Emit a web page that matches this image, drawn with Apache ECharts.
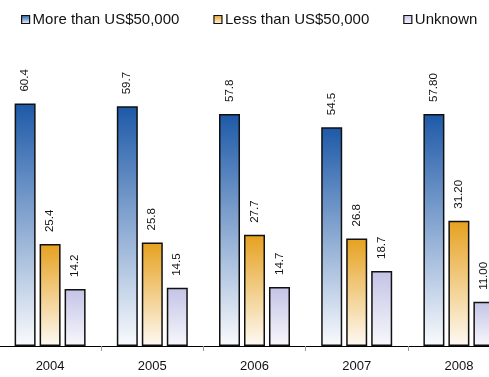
<!DOCTYPE html>
<html>
<head>
<meta charset="utf-8">
<script src="https://cdn.jsdelivr.net/npm/echarts@6/dist/echarts.min.js"></script>
<style>
  html, body { margin: 0; padding: 0; background: #fff; }
  #chart { width: 489px; height: 377px; }
</style>
</head>
<body>
<div id="chart"></div>
<script>
// Income groups per year
const years = ['2004', '2005', '2006', '2007', '2008'];
const moreThan50k = [60.4, 59.7, 57.8, 54.5, 57.8];
const lessThan50k = [25.4, 25.8, 27.7, 26.8, 31.2];
const unknown = [14.2, 14.5, 14.7, 18.7, 11.0];
// decimals shown in each year's value labels
const labelDecimals = [1, 1, 1, 1, 2];
const seriesNames = ['More than US$50,000', 'Less than US$50,000', 'Unknown'];

const FONT = 'Liberation Sans, Arial, sans-serif';

function grad(top, bottom) {
  return new echarts.graphic.LinearGradient(0, 0, 0, 1, [
    { offset: 0, color: top },
    { offset: 1, color: bottom }
  ]);
}

function makeSeries(name, values, top, bottom) {
  return {
    name: name,
    type: 'bar',
    data: values,
    barWidth: 21,
    barGap: '19%',
    itemStyle: {
      color: grad(top, bottom),
      borderColor: '#111',
      borderWidth: 1.5
    },
    label: {
      show: true,
      position: 'top',
      rotate: 90,
      align: 'left',
      verticalAlign: 'middle',
      distance: 10,
      offset: [2, 0],
      fontFamily: FONT,
      fontSize: 11.5,
      color: '#111',
      formatter: p => p.value.toFixed(labelDecimals[p.dataIndex])
    }
  };
}

const chart = echarts.init(document.getElementById('chart'));
chart.setOption({
  animation: false,
  backgroundColor: '#fff',
  legend: {
    left: 21,
    top: 12,
    itemWidth: 8,
    itemHeight: 8,
    itemGap: 34,
    padding: 0,
    icon: 'rect',
    textStyle: { fontFamily: FONT, fontSize: 15, color: '#111', padding: [0, 0, 0, -2] },
    itemStyle: { borderColor: '#111', borderWidth: 1.2 },
    data: seriesNames
  },
  grid: { left: -1, right: -21, top: 65, bottom: 31, outerBoundsMode: 'none', containLabel: false },
  xAxis: {
    type: 'category',
    data: years,
    axisLine: { show: true, lineStyle: { color: '#000', width: 1 } },
    axisTick: { show: true, length: 5, lineStyle: { color: '#999' } },
    axisLabel: { fontFamily: FONT, fontSize: 13, color: '#111', margin: 14 }
  },
  yAxis: {
    type: 'value',
    min: 0,
    max: 70,
    show: false,
    splitLine: { show: false }
  },
  series: [
    makeSeries(seriesNames[0], moreThan50k, '#1d59a8', '#fafbfd'),
    makeSeries(seriesNames[1], lessThan50k, '#e6a11f', '#fefaf4'),
    makeSeries(seriesNames[2], unknown, '#c3c3e6', '#f8f8fc')
  ]
});
</script>
</body>
</html>
